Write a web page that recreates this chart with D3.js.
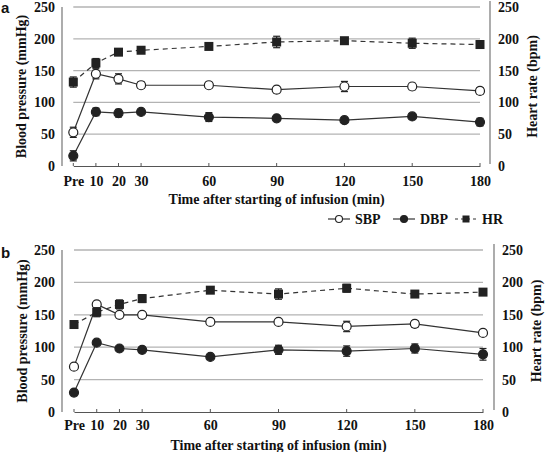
<!DOCTYPE html>
<html><head><meta charset="utf-8">
<script src="https://cdn.jsdelivr.net/npm/d3@7"></script>
<style>body{margin:0;background:#fff}svg{display:block}</style>
</head><body>
<svg id="c" width="545" height="452"></svg>
<script>
const times = [0, 10, 20, 30, 60, 90, 120, 150, 180];
const timeLabels = ["Pre", "10", "20", "30", "60", "90", "120", "150", "180"];
const yTicks = [0, 50, 100, 150, 200, 250];

const aSBP = [53, 145, 137, 127, 127, 120, 125, 125, 118];
const aSBPerr = [8, 8, 8, 5, 4, 5, 8, 5, 5];
const aDBP = [16, 85, 83, 85, 77, 75, 72, 78, 69];
const aDBPerr = [8, 6, 6, 4, 7, 4, 4, 4, 6];
const aHR = [132, 162, 179, 182, 188, 195, 197, 193, 191];
const aHRerr = [8, 7, 5, 4, 3, 9, 3, 8, 6];

const bSBP = [70, 166, 150, 150, 139, 139, 132, 136, 122];
const bSBPerr = [2, 2, 3, 3, 3, 3, 8, 5, 3];
const bDBP = [30, 107, 98, 96, 85, 96, 94, 98, 89];
const bDBPerr = [2, 2, 3, 3, 3, 7, 8, 7, 9];
const bHR = [135, 154, 166, 175, 188, 182, 191, 182, 185];
const bHRerr = [2, 7, 7, 6, 2, 8, 6, 2, 3];

const svg = d3.select("#c");
const serif = "'Liberation Serif','Times New Roman',serif";

function panel(cfg) {
  const g = svg.append("g");
  const x = d3.scaleLinear().domain([0, 180]).range([cfg.x0, cfg.x1]);
  const y = d3.scaleLinear().domain([0, 250]).range([cfg.yb, cfg.yt]);

  g.selectAll(".grid").data(yTicks.slice(1)).join("line")
    .attr("x1", x(0)).attr("x2", x(180))
    .attr("y1", d => y(d)).attr("y2", d => y(d))
    .attr("stroke", "#b3b3b3").attr("stroke-width", 1.3);

  g.append("line").attr("x1", cfg.lx).attr("x2", cfg.lx)
    .attr("y1", y(250)).attr("y2", y(0)).attr("stroke", "#808080").attr("stroke-width", 1.3);
  g.append("line").attr("x1", cfg.rx).attr("x2", cfg.rx)
    .attr("y1", y(250) - 6).attr("y2", y(0) - 2).attr("stroke", "#808080").attr("stroke-width", 1.3);

  const xAxis = d3.axisBottom(x).tickValues(times).tickSize(0).tickFormat((d, i) => timeLabels[i]);
  const xa = g.append("g").attr("transform", `translate(0,${y(0)})`).call(xAxis);
  xa.select(".domain").attr("stroke", "#555").attr("stroke-width", 1.2);
  xa.selectAll(".tick text").attr("y", cfg.tickDy).attr("dy", 0)
    .attr("font-family", serif).attr("font-weight", "bold").attr("font-size", 14).attr("fill", "#111");
  g.selectAll(".xt").data(times).join("line")
    .attr("x1", d => x(d)).attr("x2", d => x(d))
    .attr("y1", y(0)).attr("y2", y(0) - 3).attr("stroke", "#555").attr("stroke-width", 1);

  g.selectAll(".ly").data(yTicks).join("text")
    .attr("x", cfg.lx - 7).attr("y", d => y(d)).attr("dy", "0.35em")
    .attr("text-anchor", "end").attr("font-family", serif).attr("font-weight", "bold")
    .attr("font-size", 14).attr("fill", "#111").text(d => d);
  g.selectAll(".ry").data(yTicks).join("text")
    .attr("x", cfg.rx + 8).attr("y", d => y(d)).attr("dy", "0.35em")
    .attr("text-anchor", "start").attr("font-family", serif).attr("font-weight", "bold")
    .attr("font-size", 14).attr("fill", "#111").text(d => d);

  const midY = (y(0) + y(250)) / 2;
  g.append("text").attr("transform", `translate(${cfg.ltx},${midY}) rotate(-90)`)
    .attr("text-anchor", "middle").attr("dy", "0.35em")
    .attr("font-family", serif).attr("font-weight", "bold").attr("font-size", 14).attr("fill", "#111")
    .text("Blood pressure (mmHg)");
  g.append("text").attr("transform", `translate(${cfg.rtx},${midY}) rotate(-90)`)
    .attr("text-anchor", "middle").attr("dy", "0.35em")
    .attr("font-family", serif).attr("font-weight", "bold").attr("font-size", 14).attr("fill", "#111")
    .text("Heart rate (bpm)");
  g.append("text").attr("x", (x(0) + x(180)) / 2).attr("y", cfg.titleY)
    .attr("text-anchor", "middle")
    .attr("font-family", serif).attr("font-weight", "bold").attr("font-size", 14).attr("fill", "#111")
    .text("Time after starting of infusion (min)");

  g.append("text").attr("x", 1).attr("y", cfg.letterY)
    .attr("font-family", "'Liberation Sans',Arial,sans-serif").attr("font-weight", "bold")
    .attr("font-size", 15).attr("fill", "#111").text(cfg.letter);

  const series = [
    {v: cfg.sbp, e: cfg.sbpE, shape: "circle", fill: "#fff", dash: null},
    {v: cfg.dbp, e: cfg.dbpE, shape: "circle", fill: "#222", dash: null},
    {v: cfg.hr, e: cfg.hrE, shape: "square", fill: "#222", dash: "5,4"}
  ];
  const line = d3.line().x((d, i) => x(times[i])).y(d => y(d));
  series.forEach(s => {
    g.append("path").datum(s.v).attr("d", line).attr("fill", "none")
      .attr("stroke", "#333").attr("stroke-width", 1.2)
      .attr("stroke-dasharray", s.dash);
  });
  series.forEach(s => {
    const pts = s.v.map((v, i) => ({t: times[i], v, e: s.e[i]}));
    const eb = g.append("g");
    eb.selectAll("line.v").data(pts).join("line")
      .attr("x1", d => x(d.t)).attr("x2", d => x(d.t))
      .attr("y1", d => y(d.v - d.e)).attr("y2", d => y(d.v + d.e))
      .attr("stroke", "#222").attr("stroke-width", 1.2);
    ["-", "+"].forEach(sg => {
      eb.selectAll("line.c" + (sg === "-" ? "m" : "p")).data(pts).join("line")
        .attr("x1", d => x(d.t) - 3.5).attr("x2", d => x(d.t) + 3.5)
        .attr("y1", d => y(sg === "-" ? d.v - d.e : d.v + d.e))
        .attr("y2", d => y(sg === "-" ? d.v - d.e : d.v + d.e))
        .attr("stroke", "#222").attr("stroke-width", 1.2);
    });
    if (s.shape === "circle") {
      g.selectAll(null).data(pts).join("circle")
        .attr("cx", d => x(d.t)).attr("cy", d => y(d.v)).attr("r", 4.5)
        .attr("fill", s.fill).attr("stroke", "#222").attr("stroke-width", 1.2);
    } else {
      g.selectAll(null).data(pts).join("rect")
        .attr("x", d => x(d.t) - 4.5).attr("y", d => y(d.v) - 4.5)
        .attr("width", 9).attr("height", 9).attr("fill", s.fill);
    }
  });
}

panel({letter: "a", letterY: 13, x0: 73.3, x1: 480, yb: 166, yt: 7, lx: 62, rx: 490,
  ltx: 21, rtx: 532, tickDy: 20, titleY: 204,
  sbp: aSBP, sbpE: aSBPerr, dbp: aDBP, dbpE: aDBPerr, hr: aHR, hrE: aHRerr});
panel({letter: "b", letterY: 258, x0: 74, x1: 483, yb: 412, yt: 250, lx: 62, rx: 494,
  ltx: 22, rtx: 536, tickDy: 18, titleY: 450,
  sbp: bSBP, sbpE: bSBPerr, dbp: bDBP, dbpE: bDBPerr, hr: bHR, hrE: bHRerr});

const legendItems = [
  {label: "SBP", shape: "circle", fill: "#fff", dash: null},
  {label: "DBP", shape: "circle", fill: "#222", dash: null},
  {label: "HR", shape: "square", fill: "#222", dash: "3,3"}
];
const legX = [328, 393, 455];
const legY = 219;
legendItems.forEach((it, i) => {
  const lg = svg.append("g").attr("transform", `translate(${legX[i]},${legY})`);
  lg.append("line").attr("x1", 0).attr("x2", 22).attr("y1", 0).attr("y2", 0)
    .attr("stroke", "#333").attr("stroke-width", 1.2).attr("stroke-dasharray", it.dash);
  if (it.shape === "circle") {
    lg.append("circle").attr("cx", 11).attr("cy", 0).attr("r", 3.5)
      .attr("fill", it.fill).attr("stroke", "#222").attr("stroke-width", 1.1);
  } else {
    lg.append("rect").attr("x", 7.5).attr("y", -3.5).attr("width", 7).attr("height", 7).attr("fill", it.fill);
  }
  lg.append("text").attr("x", 27).attr("y", 0).attr("dy", "0.35em")
    .attr("font-family", serif).attr("font-weight", "bold").attr("font-size", 14).attr("fill", "#111")
    .text(it.label);
});
</script>
</body></html>
